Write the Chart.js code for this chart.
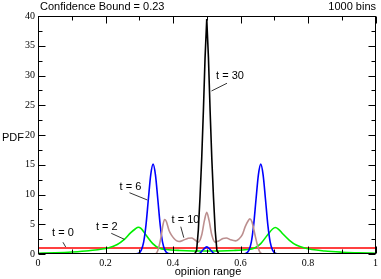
<!DOCTYPE html>
<html>
<head>
<meta charset="utf-8">
<script src="https://cdn.jsdelivr.net/npm/chart.js@4/dist/chart.umd.min.js"></script>
<style>
  html, body { margin: 0; padding: 0; background: #fff; }
  #wrap { width: 381px; height: 279px; }
</style>
</head>
<body>
<div id="wrap"><canvas id="chart" width="381" height="279"></canvas></div>
<script>
// Data
const t0X = [0, 1];
const t0Y = [1, 1];

const t2X = [0, 0.05, 0.1, 0.15, 0.21, 0.235, 0.255, 0.275, 0.288, 0.297, 0.305, 0.32, 0.34, 0.36, 0.38, 0.42, 0.5,
             0.58, 0.62, 0.64, 0.66, 0.68, 0.695, 0.703, 0.712, 0.725, 0.745, 0.765, 0.79, 0.85, 0.9, 0.95, 1];
const t2Y = [0.12, 0.2, 0.33, 0.55, 1.05, 1.6, 2.4, 3.6, 4.2, 4.5, 4.3, 3.2, 1.75, 0.95, 0.75, 0.6, 0.5,
             0.6, 0.75, 0.95, 1.75, 3.2, 4.2, 4.45, 4.2, 3.4, 2.3, 1.5, 1.0, 0.5, 0.3, 0.2, 0.12];

const t6X = [0, 0.27, 0.296, 0.306, 0.313, 0.32, 0.327, 0.334, 0.341, 0.348, 0.355, 0.362, 0.369, 0.376, 0.386, 0.4,
             0.47, 0.48, 0.49, 0.5, 0.51, 0.52, 0.53,
             0.6, 0.615, 0.625, 0.632, 0.639, 0.646, 0.653, 0.66, 0.667, 0.674, 0.681, 0.688, 0.695, 0.705, 0.72, 1];
const t6Y = [0, 0, 0.09, 0.66, 2.0, 4.9, 9.2, 13.3, 15.1, 13.3, 9.2, 4.9, 2.0, 0.66, 0.09, 0,
             0, 0.15, 0.75, 1.2, 0.75, 0.15, 0,
             0, 0.09, 0.66, 2.0, 4.9, 9.2, 13.3, 15.1, 13.3, 9.2, 4.9, 2.0, 0.66, 0.09, 0, 0];

const t10X = [0, 0.34, 0.35, 0.355, 0.36, 0.365, 0.37, 0.375, 0.38, 0.388, 0.395, 0.403, 0.41, 0.418, 0.43, 0.445, 0.455,
              0.465, 0.475, 0.485, 0.493, 0.5, 0.507, 0.515, 0.525, 0.535, 0.548, 0.558, 0.57, 0.585, 0.595, 0.605,
              0.614, 0.622, 0.628, 0.634, 0.643, 0.65, 0.655, 0.66, 0.668, 1];
const t10Y = [0, 0, 0.1, 0.6, 1.6, 3.0, 4.8, 5.8, 5.5, 4.0, 3.2, 2.6, 2.25, 2.1, 2.3, 2.65, 2.7,
              2.35, 2.0, 3.2, 5.6, 7.0, 5.6, 3.2, 2.0, 2.2, 2.6, 2.7, 2.4, 2.2, 2.5, 3.2,
              4.6, 5.5, 5.9, 5.4, 3.2, 1.5, 0.6, 0.15, 0, 0];

const t30X = [0, 0.46, 0.465, 0.47, 0.475, 0.48, 0.485, 0.49, 0.495, 0.5, 0.505, 0.51, 0.515, 0.52, 0.525, 0.53, 0.535, 0.54, 1];
const t30Y = [0, 0, 0.1, 0.6, 4, 9.5, 16, 24, 33, 39.5, 33, 24, 16, 9.5, 4, 0.6, 0.1, 0, 0];

const xMajor = [0, 0.2, 0.4, 0.6, 0.8, 1];
const xMinor = [0.1, 0.3, 0.5, 0.7, 0.9];
const yMajor = [0, 5, 10, 15, 20, 25, 30, 35, 40];
const yMinor = [2.5, 7.5, 12.5, 17.5, 22.5, 27.5, 32.5, 37.5];

// curve labels: text position and leader line, in data units
const curveLabels = [
  { text: 't = 0',  x: 0.074, y: 3.5,  from: [0.074, 1.97], to: [0.082, 1.18] },
  { text: 't = 2',  x: 0.204, y: 4.5,  from: [0.217, 3.48], to: [0.256, 2.47] },
  { text: 't = 6',  x: 0.274, y: 11.3, from: [0.271, 10.3], to: [0.324, 9.08] },
  { text: 't = 10', x: 0.437, y: 5.7,  from: [0.423, 4.59], to: [0.432, 2.74] },
  { text: 't = 30', x: 0.569, y: 29.9, from: [0.56, 28.7],  to: [0.514, 27.4] }
];

const SANS = '"Liberation Sans", Arial, sans-serif';
const SERIF = '"Liberation Serif", "Times New Roman", serif';

function pts(xs, ys) {
  return xs.map((x, i) => ({ x: x, y: ys[i] }));
}

function line(data, color, smooth) {
  return {
    data: data,
    borderColor: color,
    borderWidth: 1.6,
    pointRadius: 0,
    fill: false,
    cubicInterpolationMode: smooth ? 'monotone' : 'default',
    tension: smooth ? 0.4 : 0
  };
}

// frame, inward ticks, and all the loose text
const decor = {
  id: 'decor',
  afterDatasetsDraw(chart) {
    const { ctx, chartArea: a, scales } = chart;
    const xs = scales.x, ys = scales.y;
    const L = Math.round(a.left) + 0.5, R = Math.round(a.right) - 0.5;
    const T = Math.round(a.top) + 0.5, B = Math.round(a.bottom) - 0.5;
    ctx.save();
    ctx.strokeStyle = '#000';
    ctx.lineWidth = 1;
    ctx.strokeRect(L, T, R - L, B - T);

    ctx.beginPath();
    const tickX = (vals, len) => vals.forEach(v => {
      const p = Math.round(xs.getPixelForValue(v)) + 0.5;
      ctx.moveTo(p, B); ctx.lineTo(p, B - len);
      ctx.moveTo(p, T); ctx.lineTo(p, T + len);
    });
    const tickY = (vals, len) => vals.forEach(v => {
      const p = Math.round(ys.getPixelForValue(v)) + 0.5;
      ctx.moveTo(L, p); ctx.lineTo(L + len, p);
      ctx.moveTo(R, p); ctx.lineTo(R - len, p);
    });
    tickX(xMajor, 7); tickX(xMinor, 4);
    tickY(yMajor, 7); tickY(yMinor, 4);
    ctx.stroke();

    // curve labels
    ctx.fillStyle = '#000';
    ctx.font = '11px ' + SANS;
    ctx.textAlign = 'center';
    ctx.textBaseline = 'middle';
    ctx.beginPath();
    curveLabels.forEach(l => {
      ctx.fillText(l.text, xs.getPixelForValue(l.x), ys.getPixelForValue(l.y));
      ctx.moveTo(xs.getPixelForValue(l.from[0]), ys.getPixelForValue(l.from[1]));
      ctx.lineTo(xs.getPixelForValue(l.to[0]), ys.getPixelForValue(l.to[1]));
    });
    ctx.lineWidth = 0.8;
    ctx.stroke();

    // titles
    ctx.textAlign = 'left';
    ctx.fillText('Confidence Bound = 0.23', 40, 7);
    ctx.textAlign = 'right';
    ctx.fillText('1000 bins', 376, 7);
    ctx.textAlign = 'left';
    ctx.fillText('PDF', 2, 138);
    ctx.textAlign = 'center';
    ctx.fillText('opinion range', 208, 272);
    ctx.restore();
  }
};

new Chart(document.getElementById('chart'), {
  type: 'line',
  data: {
    datasets: [
      line(pts(t30X, t30Y), '#000000', false),
      line(pts(t10X, t10Y), '#bc8f8f', true),
      line(pts(t6X, t6Y), '#0000ff', true),
      line(pts(t2X, t2Y), '#00f000', true),
      line(pts(t0X, t0Y), '#ff0000', false)
    ]
  },
  options: {
    responsive: false,
    devicePixelRatio: 1,
    animation: false,
    layout: { padding: { left: 0, top: 16, right: 3, bottom: 0 } },
    plugins: {
      legend: { display: false },
      tooltip: { enabled: false }
    },
    scales: {
      x: {
        type: 'linear',
        min: 0,
        max: 1,
        grid: { display: false, drawTicks: false },
        border: { display: false },
        ticks: {
          stepSize: 0.2,
          color: '#000',
          padding: 3,
          maxRotation: 0,
          font: { family: SERIF, size: 10 },
          callback: v => String(Math.round(v * 10) / 10)
        },
        afterFit: s => { s.height = 25; }
      },
      y: {
        min: 0,
        max: 40,
        grid: { display: false, drawTicks: false },
        border: { display: false },
        ticks: {
          stepSize: 5,
          color: '#000',
          padding: 3,
          font: { family: SERIF, size: 10 }
        },
        afterFit: s => { s.width = 38; }
      }
    }
  },
  plugins: [decor]
});
</script>
</body>
</html>
